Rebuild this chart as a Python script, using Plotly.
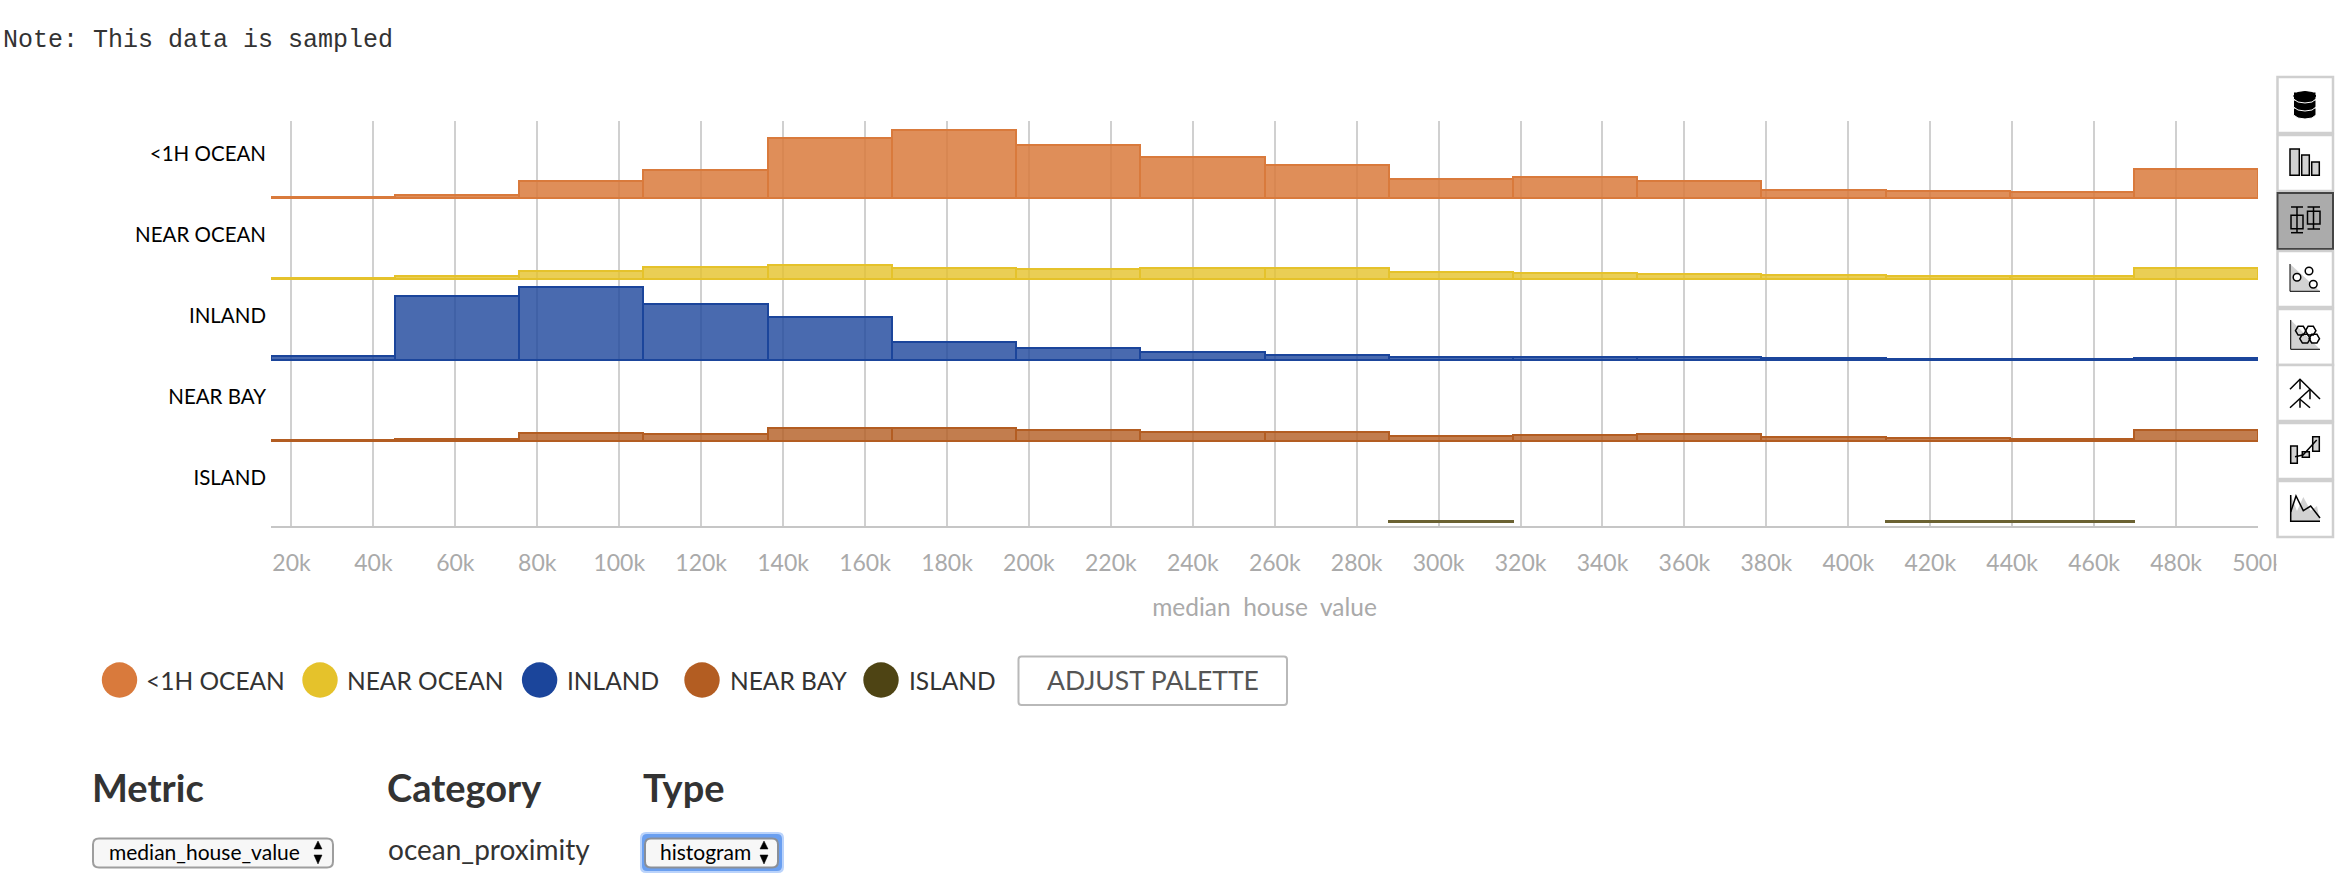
import plotly.graph_objects as go

W, H = 2346, 890

categories = ["<1H OCEAN", "NEAR OCEAN", "INLAND", "NEAR BAY", "ISLAND"]
colors = ["#D97A3C", "#E5C22B", "#1B459B", "#B35D22", "#6B6232"]
dots = ["#D97A3C", "#E5C22B", "#1B459B", "#B35D22", "#4E4414"]
fills = ["rgba(217,122,60,0.85)", "rgba(229,194,43,0.8)", "rgba(27,69,155,0.8)", "rgba(179,93,34,0.8)", "rgba(78,68,20,0.6)"]
bin_edges = [15.0, 45.3, 75.6, 105.9, 136.3, 166.6, 196.9, 227.2, 257.5,
             287.8, 318.1, 348.4, 378.7, 409.1, 439.4, 469.7, 500.0]

ocean_1h = [1.0, 3.0, 17.0, 27.3, 60.0, 67.3, 52.3, 41.0, 32.3, 18.3, 20.3, 16.3, 8.0, 7.0, 5.3, 28.3]
near_ocean = [0.8, 2.5, 7.6, 11.6, 13.6, 10.3, 9.6, 10.6, 10.6, 6.6, 5.6, 4.6, 4.0, 2.7, 2.4, 10.3]
inland = [4.0, 63.3, 72.6, 56.0, 42.6, 18.2, 11.8, 8.2, 4.6, 3.0, 2.7, 2.7, 1.8, 1.2, 1.2, 1.8]
near_bay = [0.8, 1.5, 7.3, 7.0, 12.6, 12.6, 10.6, 9.0, 8.6, 4.7, 6.0, 6.4, 3.4, 2.8, 1.8, 10.3]
island = [None, None, None, None, None, None, None, None, None, 0.8, None, None, None, 0.8, 0.8, None]
series = [ocean_1h, near_ocean, inland, near_bay, island]

x_ticks = list(range(20, 501, 20))
x_labels = [f"{v}k" for v in x_ticks]

FONT = "Lato"
ROW_STEP = 81.0
ROW_FLOOR = 4.3
LABEL_RISE = 44.0
PLOT_L, PLOT_R, PLOT_T, PLOT_B = 271, 2258, 121, 526


def px(x):
    return x / W


def py(y):
    return 1 - y / H


def path_of(points, close=False):
    s = "M " + " L ".join(f"{px(x):.5f},{py(y):.5f}" for x, y in points)
    return s + (" Z" if close else "")


def round_rect(x0, y0, x1, y1, r):
    def p(x, y):
        return f"{px(x):.5f},{py(y):.5f}"
    return (f"M {p(x0 + r, y0)} L {p(x1 - r, y0)} Q {p(x1, y0)} {p(x1, y0 + r)} "
            f"L {p(x1, y1 - r)} Q {p(x1, y1)} {p(x1 - r, y1)} L {p(x0 + r, y1)} "
            f"Q {p(x0, y1)} {p(x0, y1 - r)} L {p(x0, y0 + r)} Q {p(x0, y0)} {p(x0 + r, y0)} Z")


shapes = []


def add_path(path, fill=None, line="#000", lw=1.5):
    shapes.append(dict(type="path", xref="paper", yref="paper", path=path,
                       fillcolor=fill if fill else "rgba(0,0,0,0)",
                       line=dict(color=line, width=lw), layer="above"))


def add_rect(x0, y0, x1, y1, fill=None, line="#000", lw=1.5):
    add_path(path_of([(x0, y0), (x1, y0), (x1, y1), (x0, y1)], True), fill, line, lw)


def add_circle(cx, cy, r, fill, line="rgba(0,0,0,0)", lw=0):
    shapes.append(dict(type="circle", xref="paper", yref="paper", x0=px(cx - r), x1=px(cx + r),
                       y0=py(cy + r), y1=py(cy - r), fillcolor=fill,
                       line=dict(color=line, width=lw), layer="above"))


def add_line(points, line="#000", lw=1.5):
    add_path(path_of(points), None, line, lw)


# ---- legend dots and button
for cx, c in zip([119.5, 320, 539.6, 702, 881], dots):
    add_circle(cx, 680, 17.7, c)
add_path(round_rect(1018.5, 656.5, 1287, 705, 3), "#fff", "#b9b9b9", 2)

# ---- selects
add_path(round_rect(640, 832, 784, 873, 6), "#BAD3FB", "rgba(0,0,0,0)", 0)
add_path(round_rect(642, 834, 782, 871, 5), "#6A9FF0", "rgba(0,0,0,0)", 0)
add_path(round_rect(93, 838.5, 333, 867.5, 6), "#F7F7F7", "#9E9E9E", 2)
add_path(round_rect(645, 838.5, 778, 867.5, 6), "#F7F7F7", "#8A8F98", 2)
for ax in (318, 764):
    add_path(path_of([(ax - 4, 849), (ax + 4, 849), (ax, 841)], True), "#000", "#000", 0.5)
    add_path(path_of([(ax - 4, 855), (ax + 4, 855), (ax, 864)], True), "#000", "#000", 0.5)

# ---- toolbar
btn_tops = [77, 135, 193, 251, 309, 365, 423, 481]
for i, t in enumerate(btn_tops):
    if i == 2:
        add_rect(2277.5, t, 2333, t + 56, "#ABABAB", "#444", 2)
    else:
        add_rect(2277.5, t, 2333, t + 56, "#fff", "#CFCFCF", 2.5)

GR = "#D2D2D2"
# database
for yc in (112, 104, 96):
    add_path(path_of([(2293.5, yc - 4), (2293.5, yc + 3), (2298, yc + 6), (2305, yc + 7),
                      (2312, yc + 6), (2316, yc + 3), (2316, yc - 4)], True), "#000", "#fff", 1)
add_path(path_of([(2293.5, 96), (2298, 92.5), (2305, 91.5), (2312, 92.5), (2316, 96),
                  (2312, 98.5), (2305, 99.5), (2298, 98.5)], True), "#000", "#000", 1)
# bars
add_rect(2290, 149, 2299.3, 175.3, GR)
add_rect(2301.7, 155, 2309.3, 175.3, GR)
add_rect(2311.7, 162, 2319.3, 175.3, GR)
# box plots
add_line([(2297, 207), (2297, 232.7)])
add_line([(2291, 207), (2303, 207)])
add_line([(2291, 232.7), (2303, 232.7)])
add_rect(2291, 215.3, 2303, 228.7, "#ABABAB")
add_line([(2297, 215.3), (2297, 228.7)])
add_line([(2313.5, 207), (2313.5, 229)])
add_line([(2307.5, 207), (2320, 207)])
add_line([(2307.5, 229), (2320, 229)])
add_rect(2307.5, 211.3, 2320, 224, "#ABABAB")
add_line([(2313.5, 211.3), (2313.5, 224)])
# scatter
add_path(path_of([(2290, 264), (2290, 291.3), (2320, 291.3)], True), GR, "rgba(0,0,0,0)", 0)
add_line([(2290, 264), (2290, 291.3), (2320, 291.3)], lw=1)
for cx, cy in ((2297, 277.3), (2309, 271), (2313.3, 284.3)):
    add_circle(cx, cy, 3.8, "#fff", "#000", 1.5)
# hexbin
add_path(path_of([(2290.7, 320), (2290.7, 349.3), (2320, 349.3)], True), GR, "rgba(0,0,0,0)", 0)
add_line([(2290.7, 320), (2290.7, 349.3), (2320, 349.3)], lw=1)
for cx, cy in ((2300.7, 330.7), (2310.7, 330.7), (2305, 338.7), (2314.3, 338.7)):
    r = 5.2
    add_path(path_of([(cx - r, cy), (cx - r / 2, cy - r * .85), (cx + r / 2, cy - r * .85),
                      (cx + r, cy), (cx + r / 2, cy + r * .85), (cx - r / 2, cy + r * .85)], True),
             None, "#000", 1.5)
# tree
add_line([(2290, 389.3), (2300, 379.3), (2320, 399)])
add_line([(2300, 379.3), (2300, 389.3)])
add_line([(2290, 407.7), (2310, 389.3)])
add_line([(2310, 389.3), (2310, 399.3)])
add_line([(2300, 399.3), (2310, 407.7)])
add_line([(2300, 399.3), (2300, 407.7)])
# candlestick
add_rect(2290.7, 446, 2297.3, 463.3, GR)
add_rect(2302.3, 451.7, 2309.3, 457.3, GR)
add_rect(2312.7, 436.7, 2319.3, 451.3, GR)
add_line([(2295, 456.7), (2303, 455), (2316.7, 440)])
# area
area_pts = [(2290.7, 495), (2297, 511), (2303.3, 497), (2310.7, 510.7), (2317, 506), (2320, 521.3), (2290.7, 521.3)]
add_path(path_of(area_pts, True), GR, "rgba(0,0,0,0)", 0)
add_line([(2290.7, 495), (2290.7, 521.3), (2320, 521.3)], lw=1.5)
add_line([(2290.7, 512), (2296, 496), (2303.3, 510.7), (2310.7, 506), (2320, 518)], lw=1.5)

# ---- text
annotations = []


def text(t, x, y, size, color="#333", anchor="left", family=FONT):
    annotations.append(dict(text=t, x=px(x), y=py(y), xref="paper", yref="paper",
                            xanchor=anchor, yanchor="middle", showarrow=False,
                            font=dict(family=family, size=size, color=color)))


text("Note: This data is sampled", 1, 40.5, 25, "#333", family="Liberation Mono")
legend_x = [143.5, 345, 564.5, 728, 906.5]
for name, lx in zip(categories, legend_x):
    text(name, lx, 680, 24.5, "#333")
text("ADJUST PALETTE", 1153, 680, 26.5, "#555", "center")
text("<b>Metric</b>", 90, 786.5, 38)
text("<b>Category</b>", 385, 786.5, 38)
text("<b>Type</b>", 641, 786.5, 38)
text("ocean_proximity", 385.5, 849, 28)
text("median_house_value", 106.5, 851.5, 21, "#000")
text("histogram", 657.5, 851.5, 21, "#000")
# crop of the last tick label, as the toolbar column clips it in the original page
annotations.append(dict(text=" ", x=px(2276), y=py(563), xref="paper", yref="paper", xanchor="left",
                        yanchor="middle", showarrow=False, width=20, height=34, bgcolor="#fff",
                        font=dict(size=10)))

fig = go.Figure()
centers = [(a + b) / 2 for a, b in zip(bin_edges[:-1], bin_edges[1:])]
widths = [b - a for a, b in zip(bin_edges[:-1], bin_edges[1:])]
for i, (name, vals, c, f) in enumerate(zip(categories, series, colors, fills)):
    base = ROW_FLOOR + (len(categories) - 1 - i) * ROW_STEP
    fig.add_trace(go.Bar(x=centers, y=vals, base=base, width=widths, name=name,
                         marker=dict(color=f, line=dict(color=c, width=2)),
                         showlegend=False))

row_ticks = [ROW_FLOOR + (len(categories) - 1 - i) * ROW_STEP + LABEL_RISE for i in range(len(categories))]

fig.update_layout(
    template=None,
    width=W, height=H, margin=dict(l=0, r=0, t=0, b=0, pad=0), autosize=False,
    paper_bgcolor="#fff", plot_bgcolor="#fff", barmode="overlay", bargap=0,
    font=dict(family=FONT), shapes=shapes, annotations=annotations,
    xaxis=dict(domain=[px(PLOT_L), px(PLOT_R)], range=[15, 500], tickvals=x_ticks, ticktext=x_labels,
               automargin=False,
               showgrid=True, gridcolor="#D0D0D0", gridwidth=1.5, showline=True, linecolor="#C6C6C6", linewidth=2,
               ticks="", zeroline=False, ticklabelstandoff=15,
               tickfont=dict(family=FONT, size=23, color="#AAAAAA"),
               title=dict(text="median\u00a0\u00a0house\u00a0\u00a0value", standoff=24.5,
                          font=dict(family=FONT, size=24.5, color="#AAAAAA"))),
    yaxis=dict(domain=[py(PLOT_B), py(PLOT_T)], range=[0, PLOT_B - PLOT_T], tickvals=row_ticks, ticktext=categories,
               automargin=False, ticklabelstandoff=4,
               showgrid=False, showline=False, zeroline=False, ticks="",
               tickfont=dict(family=FONT, size=20.5, color="#000")),
)

fig.write_html("out.html", config=dict(displayModeBar=False),
               post_script="document.body.style.margin='0';document.documentElement.style.overflow='hidden';")
